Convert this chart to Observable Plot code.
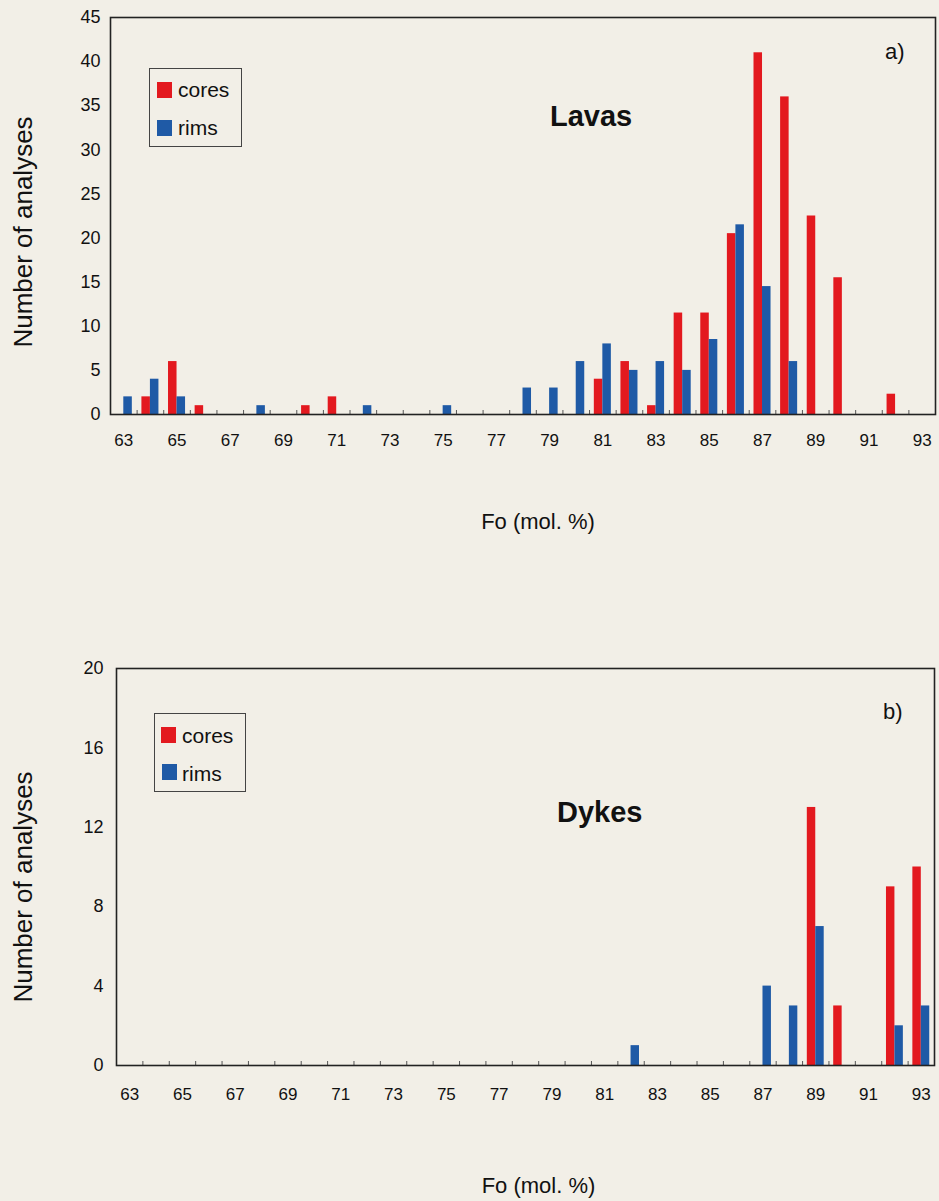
<!DOCTYPE html>
<html>
<head>
<meta charset="utf-8">
<script src="https://cdn.jsdelivr.net/npm/d3@7"></script>
<script src="https://cdn.jsdelivr.net/npm/@observablehq/plot@0.6"></script>
<style>
  html, body { margin: 0; padding: 0; background: #f2efe7; }
  #wrap { position: relative; width: 939px; height: 1201px; overflow: hidden; font-family: "Liberation Sans", Arial, sans-serif; color: #111; }
  .panel { position: absolute; left: 0; }
  .legend { position: absolute; border: 1px solid #444; box-sizing: border-box; }
  .sw { position: absolute; width: 15px; height: 16px; }
  .lt { position: absolute; font-size: 21px; line-height: 21px; white-space: nowrap; }
  .ann { position: absolute; white-space: nowrap; }
</style>
</head>
<body>
<div id="wrap">
  <div id="pa" class="panel" style="top:0"></div>
  <div id="pb" class="panel" style="top:650px"></div>

  <div class="legend" style="left:149px;top:68px;width:93px;height:79px"></div>
  <div class="sw" style="left:157px;top:82px;background:#e3191f"></div>
  <div class="lt" style="left:178px;top:79px">cores</div>
  <div class="sw" style="left:157px;top:120px;background:#1f5aa6"></div>
  <div class="lt" style="left:178px;top:117px">rims</div>
  <div class="ann" style="left:550px;top:102px;font-size:29px;line-height:29px;font-weight:bold">Lavas</div>
  <div class="ann" style="left:885px;top:41px;font-size:22px;line-height:22px">a)</div>

  <div class="legend" style="left:154px;top:713px;width:92px;height:79px"></div>
  <div class="sw" style="left:161px;top:727px;background:#e3191f"></div>
  <div class="lt" style="left:182px;top:725px">cores</div>
  <div class="sw" style="left:162px;top:764px;background:#1f5aa6"></div>
  <div class="lt" style="left:182px;top:763px">rims</div>
  <div class="ann" style="left:557px;top:798px;font-size:29px;line-height:29px;font-weight:bold">Dykes</div>
  <div class="ann" style="left:883px;top:701px;font-size:22px;line-height:22px">b)</div>
</div>
<script>
// Fo (mol. %) categories
const fo = [63,64,65,66,67,68,69,70,71,72,73,74,75,76,77,78,79,80,81,82,83,84,85,86,87,88,89,90,91,92,93];
const xTickLabels = [63,65,67,69,71,73,75,77,79,81,83,85,87,89,91,93];

// Panel a) Lavas
const lavasCores = [0,2,6,1,0,0,0,1,2,0,0,0,0,0,0,0,0,0,4,6,1,11.5,11.5,20.5,41,36,22.5,15.5,0,2.3,0];
const lavasRims  = [2,4,2,0,0,1,0,0,0,1,0,0,1,0,0,3,3,6,8,5,6,5,8.5,21.5,14.5,6,0,0,0,0,0];
const lavasYTicks = [0,5,10,15,20,25,30,35,40,45];

// Panel b) Dykes
const dykesCores = [0,0,0,0,0,0,0,0,0,0,0,0,0,0,0,0,0,0,0,0,0,0,0,0,0,0,13,3,0,9,10];
const dykesRims  = [0,0,0,0,0,0,0,0,0,0,0,0,0,0,0,0,0,0,0,1,0,0,0,0,4,3,7,0,0,2,3];
const dykesYTicks = [0,4,8,12,16,20];

const RED = "#e3191f", BLUE = "#1f5aa6";

function rows(vals, series) {
  return fo.map((f, i) => ({fo: f, series, n: vals[i]})).filter(d => d.n > 0);
}

function panel({cores, rims, yMax, yTicks, height, marginTop, marginBottom, marginLeft, marginRight,
                yTickPad, xTickPad, yTitleDx, yTitleDy, xTitleDx, xTitleDy}) {
  const width = 939;
  const plotW = width - marginLeft - marginRight;
  const plotH = height - marginTop - marginBottom;
  const step = plotW / fo.length;
  const bw = step * 0.64;
  return Plot.plot({
    width, height, marginTop, marginBottom, marginLeft, marginRight,
    style: {background: "transparent", fontFamily: "'Liberation Sans', Arial, sans-serif", color: "#111"},
    x: {type: "band", domain: fo, paddingInner: 0.36, paddingOuter: 0.18, round: false, axis: null},
    y: {domain: [0, yMax], axis: null},
    marks: [
      Plot.barY(rows(cores, "cores"), {x: "fo", y: "n", fill: RED, insetRight: bw / 2}),
      Plot.barY(rows(rims, "rims"), {x: "fo", y: "n", fill: BLUE, insetLeft: bw / 2}),
      Plot.ruleX(fo.slice(0, -1), {x: d => d, dx: step / 2, insetTop: plotH - 4, stroke: "#555", strokeWidth: 1}),
      Plot.frame({stroke: "#222", strokeWidth: 1.6}),
      Plot.axisX(xTickLabels, {tickSize: 0, tickPadding: xTickPad, fontSize: 17, label: null, fill: "#111"}),
      Plot.axisY(yTicks, {tickSize: 0, tickPadding: yTickPad, fontSize: 18, label: null, fill: "#111"}),
      Plot.text(["Number of analyses"], {text: d => d, frameAnchor: "left", textAnchor: "middle", lineAnchor: "middle", rotate: -90, dx: yTitleDx, dy: yTitleDy, fontSize: 26, fill: "#111"}),
      Plot.text(["Fo (mol. %)"], {text: d => d, frameAnchor: "bottom", textAnchor: "middle", lineAnchor: "middle", dx: xTitleDx, dy: xTitleDy, fontSize: 22, fill: "#111"})
    ]
  });
}

document.getElementById("pa").append(panel({
  cores: lavasCores, rims: lavasRims, yMax: 45, yTicks: lavasYTicks,
  height: 560, marginTop: 17, marginBottom: 146, marginLeft: 110, marginRight: 4,
  yTickPad: 10, xTickPad: 19, yTitleDx: -87, yTitleDy: 16, xTitleDx: 15, xTitleDy: 107
}));

document.getElementById("pb").append(panel({
  cores: dykesCores, rims: dykesRims, yMax: 20, yTicks: dykesYTicks,
  height: 551, marginTop: 18, marginBottom: 136, marginLeft: 116, marginRight: 5,
  yTickPad: 13, xTickPad: 22, yTitleDx: -93, yTitleDy: 20, xTitleDx: 13, xTitleDy: 120
}));
</script>
</body>
</html>
